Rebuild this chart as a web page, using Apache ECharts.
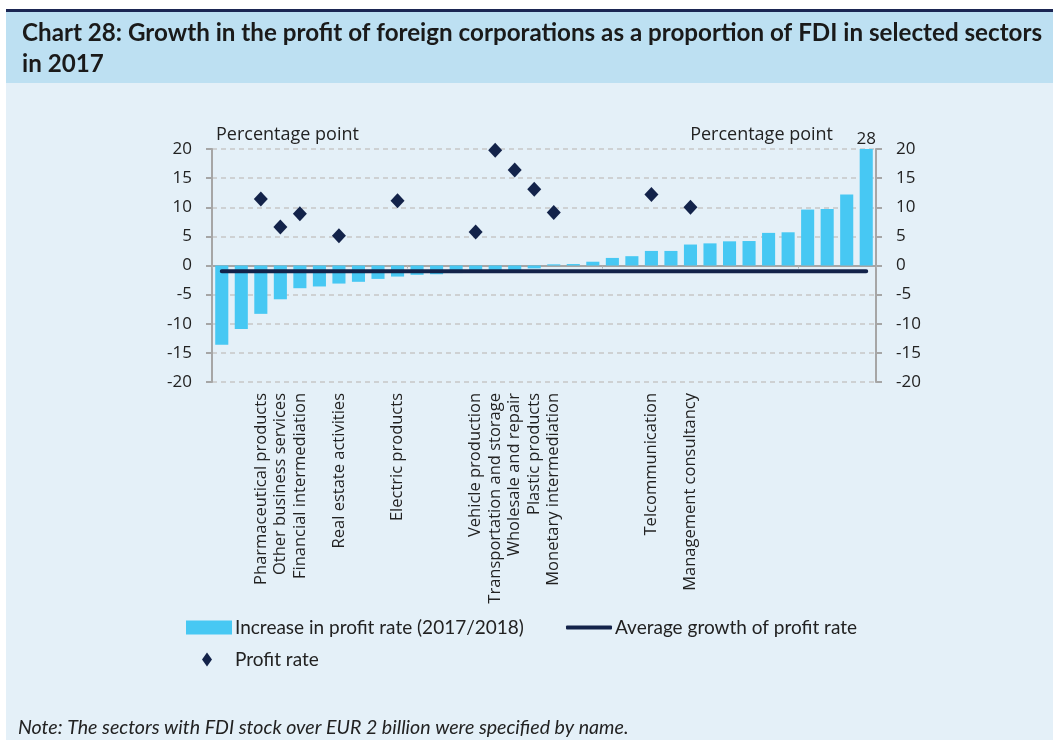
<!DOCTYPE html>
<html>
<head>
<meta charset="utf-8">
<script src="https://cdn.jsdelivr.net/npm/echarts@6/dist/echarts.min.js"></script>
<style>
  html, body { margin: 0; padding: 0; background: #ffffff; }
  #main { width: 1053px; height: 740px; }
</style>
</head>
<body>
<div id="main"></div>
<script>
// sectors, only the ones with FDI stock over EUR 2 billion carry a name
var sectors = ['', '', 'Pharmaceutical products', 'Other business services', 'Financial intermediation', '',
  'Real estate activities', '', '', 'Electric products', '', '', '', 'Vehicle production',
  'Transportation and storage', 'Wholesale and repair', 'Plastic products', 'Monetary intermediation',
  '', '', '', '', 'Telcommunication', '', 'Management consultancy', '', '', '', '', '', '', '', '', ''];

var increaseRate = [-13.6, -10.9, -8.3, -5.8, -3.9, -3.6, -3.1, -2.8, -2.3, -1.9, -1.6, -1.5,
  -1.3, -1.2, -1.0, -0.8, -0.5, 0.2, 0.25, 0.65, 1.3, 1.6, 2.5, 2.5, 3.6, 3.8, 4.15, 4.2,
  5.6, 5.7, 9.6, 9.7, 12.2, 28];

var profitRate = ['-', '-', 11.4, 6.6, 8.9, '-', 5.1, '-', '-', 11.1, '-', '-', '-', 5.75,
  19.8, 16.4, 13.1, 9.1, '-', '-', '-', '-', 12.2, '-', 10.0, '-', '-', '-', '-', '-', '-', '-', '-', '-'];

var avgGrowth = -1.0;

var yTicks = { min: -20, max: 20, interval: 5 };

function main() {
  var myChart = echarts.init(document.getElementById('main'));

  var barData = increaseRate.map(function (v) {
    if (v > yTicks.max) {
      return { value: v, label: { show: true } };
    }
    return v;
  });
  var avgData = sectors.map(function () { return avgGrowth; });

  var axisFont = { fontFamily: 'Open Sans', color: '#222222' };
  var legendFont = { fontFamily: 'Lato', fontSize: 19, color: '#222222' };

  var option = {
    backgroundColor: '#ffffff',
    animation: false,
    graphic: [
      { type: 'rect', shape: { x: 6, y: 83, width: 1047, height: 657 }, style: { fill: '#e4f0f8' }, z: -10 },
      { type: 'rect', shape: { x: 6, y: 12, width: 1047, height: 71 }, style: { fill: '#bde0f2' }, z: -10 },
      { type: 'rect', shape: { x: 6, y: 9, width: 1047, height: 3 }, style: { fill: '#1b2653' }, z: -10 }
    ],
    title: [{
      text: 'Chart 28: Growth in the profit of foreign corporations as a proportion of FDI in selected sectors\nin 2017',
      left: 17,
      top: 13,
      textStyle: { fontFamily: 'Lato', fontWeight: 'bold', fontSize: 24.2, color: '#1a1a1a', lineHeight: 31 }
    }, {
      text: 'Note: The sectors with FDI stock over EUR 2 billion were specified by name.',
      left: 13,
      top: 713,
      textStyle: { fontFamily: 'Lato', fontStyle: 'italic', fontWeight: 'normal', fontSize: 19.6, color: '#222222' }
    }],
    legend: [{
      data: [{ name: 'Increase in profit rate (2017/2018)', icon: 'rect' }],
      left: 186,
      top: 618,
      padding: 0,
      itemWidth: 46,
      itemHeight: 14,
      textStyle: Object.assign({ padding: [0, 0, 0, -2] }, legendFont)
    }, {
      data: [{ name: 'Average growth of profit rate', icon: 'roundRect' }],
      left: 566,
      top: 618,
      padding: 0,
      itemWidth: 46,
      itemHeight: 4,
      textStyle: Object.assign({ padding: [0, 0, 0, -2], fontSize: 19.5 }, legendFont)
    }, {
      data: [{ name: 'Profit rate', icon: 'diamond' }],
      left: 202,
      top: 650,
      padding: 0,
      itemWidth: 10,
      itemHeight: 14,
      textStyle: Object.assign({ padding: [0, 0, 0, 18] }, legendFont)
    }],
    grid: { left: 212, right: 177, top: 149, bottom: 358 },
    xAxis: [{
      type: 'category',
      data: sectors,
      axisLine: { onZero: true, lineStyle: { color: '#a6a6a6', width: 2 } },
      axisTick: { show: true, length: 3, lineStyle: { color: '#b0b0b0' } },
      axisLabel: { show: false }
    }, {
      type: 'category',
      data: sectors,
      position: 'bottom',
      axisLine: { show: false, onZero: false },
      axisTick: { show: false },
      axisLabel: Object.assign({ interval: 0, rotate: 90, fontSize: 16.5, margin: 11 }, axisFont)
    }],
    yAxis: [{
      type: 'value',
      min: yTicks.min,
      max: yTicks.max,
      interval: yTicks.interval,
      name: 'Percentage point',
      nameLocation: 'end',
      nameGap: 5,
      nameTextStyle: Object.assign({ fontSize: 18, align: 'left', padding: [0, 0, 0, 4] }, axisFont),
      axisLine: { show: true, lineStyle: { color: '#a6a6a6', width: 2 } },
      axisTick: { show: true, length: 6, lineStyle: { color: '#a6a6a6', width: 2 } },
      axisLabel: Object.assign({ fontSize: 17, margin: 20 }, axisFont),
      splitLine: { show: true, lineStyle: { color: '#c6c6c6', width: 1.5, type: [5, 4] } }
    }, {
      type: 'value',
      position: 'right',
      min: yTicks.min,
      max: yTicks.max,
      interval: yTicks.interval,
      name: 'Percentage point',
      nameLocation: 'end',
      nameGap: 5,
      nameTextStyle: Object.assign({ fontSize: 18, align: 'right', padding: [0, 43, 0, 0] }, axisFont),
      axisLine: { show: true, lineStyle: { color: '#a6a6a6', width: 2 } },
      axisTick: { show: true, length: 6, lineStyle: { color: '#a6a6a6', width: 2 } },
      axisLabel: Object.assign({ fontSize: 17, margin: 20 }, axisFont),
      splitLine: { show: false }
    }],
    series: [{
      name: 'Increase in profit rate (2017/2018)',
      type: 'bar',
      data: barData,
      barWidth: '67%',
      clip: true,
      itemStyle: { color: '#47c8f3' },
      label: {
        show: false,
        position: 'top',
        distance: 1,
        fontFamily: 'Open Sans',
        fontSize: 17,
        color: '#222222'
      }
    }, {
      name: 'Average growth of profit rate',
      type: 'line',
      data: avgData,
      symbol: 'none',
      lineStyle: { color: '#13234a', width: 4, cap: 'round' },
      itemStyle: { color: '#13234a' },
      z: 3
    }, {
      name: 'Profit rate',
      type: 'scatter',
      data: profitRate,
      symbol: 'diamond',
      symbolSize: [14, 15],
      itemStyle: { color: '#13234a', opacity: 1 },
      z: 4
    }]
  };

  myChart.setOption(option);
}
main();
</script>
</body>
</html>
